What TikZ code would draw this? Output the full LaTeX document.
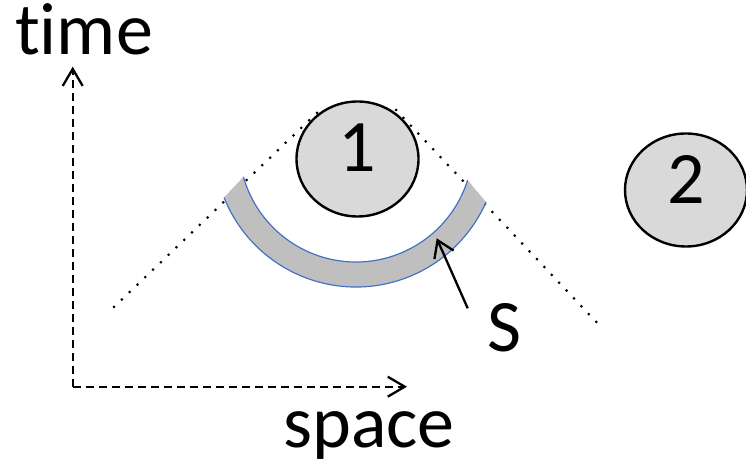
\documentclass[tikz,border=0pt]{standalone}
\usepackage{fontspec}
\setmainfont{Carlito}[Ligatures=NoCommon]
\usetikzlibrary{arrows.meta,shapes.geometric,calc}

\definecolor{ballgray}{HTML}{D9D9D9}
\definecolor{shellgray}{HTML}{BFBFBF}
\definecolor{shellblue}{HTML}{4472C4}
\newcommand{\diagfont}{\fontsize{74}{86}\selectfont}

\begin{document}
\begin{tikzpicture}[x=1pt, y=1pt,
    axis/.style={line width=2.3pt, dash pattern=on 8pt off 5pt,
      -{Straight Barb[length=17pt,width=20pt,line width=2.3pt]}},
    cone/.style={line width=3pt, line cap=round, dash pattern=on 0pt off 10.8pt},
    ball/.style={ellipse, draw, line width=2.4pt, fill=ballgray,
      minimum width=122pt, minimum height=115pt, inner sep=0pt,
      text depth=22pt, font=\diagfont},
    word/.style={anchor=base, inner sep=0pt, font=\diagfont}]
  \useasboundingbox (0,0) rectangle (746,468);

  % axes
  \coordinate (o) at (72.7,81.3);
  \coordinate (ytip) at (72.7,401.3);
  \coordinate (xtip) at (407,81.3);
  \draw[axis] (o) -- (ytip);
  \draw[axis] (o) -- (xtip);
  \node[word] (time) at (84,413) {time};
  \node[word] (space) at (369,20) {space};

  % light cone
  \coordinate (cl1) at (114,161);
  \coordinate (cl2) at (322,360);
  \coordinate (cr1) at (396,358);
  \coordinate (cr2) at (601,141);
  \draw[cone] (cl1) -- (cl2);
  \draw[cone] (cr1) -- (cr2);

  % shell S
  \coordinate (sc) at (356,323);
  \fill[shellgray] ($(sc)+(201.7:142)$) arc[start angle=201.7, end angle=336.3, radius=142]
    -- ($(sc)+(342.5:117)$) arc[start angle=342.5, end angle=195.8, radius=117] -- cycle;
  \draw[shellblue, line width=1.2pt] ($(sc)+(201.7:142)$) arc[start angle=201.7, end angle=336.3, radius=142];
  \draw[shellblue, line width=1.2pt] ($(sc)+(342.5:117)$) arc[start angle=342.5, end angle=195.8, radius=117];

  % regions
  \node[ball] (c1) at (357.5,309) {1};
  \node[ball, minimum height=113pt] (c2) at (686,278) {2};

  \node[word] (S) at (504,116) {S};
  \coordinate (stail) at (467.7,159.7);
  \coordinate (stip) at (436.7,229.7);
  \draw[line width=2.3pt, -{Straight Barb[length=16pt,width=21pt,line width=2.3pt]}] (stail) -- (stip);
\end{tikzpicture}
\end{document}
